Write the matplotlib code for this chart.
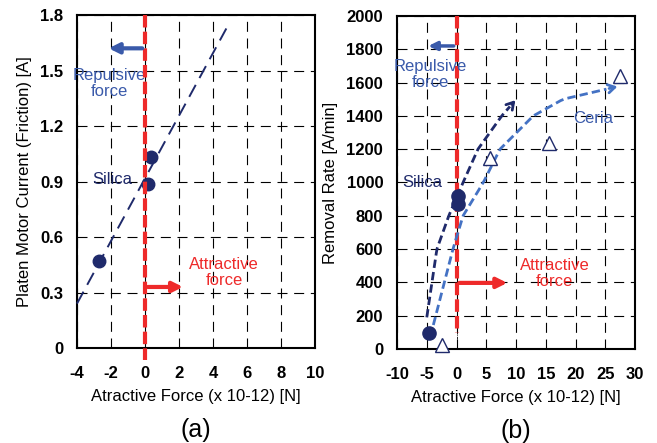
import matplotlib
matplotlib.use("Agg")
import matplotlib.pyplot as plt
import numpy as np

plt.rcParams['font.family'] = ['Liberation Sans', 'DejaVu Sans']
plt.rcParams['axes.unicode_minus'] = False

# ---- data (a) ----
a_force = [-2.7, 0.35, 0.2]
a_current = [0.47, 1.03, 0.885]
a_fit_x = [-4.0, 4.8]
a_fit_y = [0.24, 1.73]

# ---- data (b) ----
b_silica_force = [-4.6, 0.3, 0.3]
b_silica_rate = [95, 920, 870]
b_ceria_force = [-2.4, 5.7, 15.5, 27.4]
b_ceria_rate = [25, 1150, 1240, 1640]
b_silica_curve_x = [-5.0, -3.3, -1.3, 1.1, 3.6, 7.6, 10.2]
b_silica_curve_y = [190, 600, 800, 1000, 1200, 1400, 1507]
b_ceria_curve_x = [-3.9, -0.6, 1.1, 4.5, 7.3, 12.9, 17.9, 27.5]
b_ceria_curve_y = [144, 600, 800, 1000, 1200, 1400, 1500, 1580]

navy = '#1f2a6b'
blue = '#4472c4'
textblue = '#3a5aaa'
red = '#ee2a2a'

FS = 12

fig = plt.figure(figsize=(6.57, 4.43), dpi=100)
ax1 = fig.add_axes([0.1172, 0.2144, 0.3623, 0.7517])
ax2 = fig.add_axes([0.6043, 0.2122, 0.3623, 0.7517])

grid_ls = (0, (9, 6))

# ---------- panel (a) ----------
ax1.set_xlim(-4, 10)
ax1.set_ylim(0, 1.8)
ax1.set_xticks(np.arange(-4, 11, 2))
ax1.set_yticks([0, 0.3, 0.6, 0.9, 1.2, 1.5, 1.8])
ax1.set_yticklabels(['0', '0.3', '0.6', '0.9', '1.2', '1.5', '1.8'])
ax1.grid(True, color='black', linestyle=grid_ls, linewidth=0.8)
ax1.set_axisbelow(True)
ax1.plot(a_fit_x, a_fit_y, color=navy, linestyle=(0, (7, 4)), linewidth=1.4, clip_on=False, zorder=3)
ax1.plot(a_force, a_current, 'o', color=navy, markersize=9, zorder=4)
ax1.plot([0, 0], [1.8, -0.065], color=red, linestyle=(0, (3, 1)), linewidth=3, clip_on=False, zorder=5)
ax1.annotate('', xy=(-2.3, 1.62), xytext=(0, 1.62),
             arrowprops=dict(arrowstyle='-|>,head_length=0.6,head_width=0.3', color=textblue, lw=3), zorder=6)
ax1.annotate('', xy=(2.4, 0.33), xytext=(0, 0.33),
             arrowprops=dict(arrowstyle='-|>,head_length=0.6,head_width=0.3', color=red, lw=3), zorder=6)
ax1.text(-2.1, 1.43, 'Repulsive\nforce', color=textblue, fontsize=FS, ha='center', va='center', linespacing=1.1)
ax1.text(-1.95, 0.91, 'Silica', color=navy, fontsize=FS, ha='center', va='center')
ax1.text(4.65, 0.41, 'Attractive\nforce', color=red, fontsize=FS, ha='center', va='center', linespacing=1.1)
ax1.set_xlabel('Atractive Force (x 10-12) [N]', fontsize=FS, labelpad=6)
ax1.set_ylabel('Platen Motor Current (Friction) [A]', fontsize=FS, labelpad=6)
ax1.text(0.5, -0.246, '(a)', transform=ax1.transAxes, fontsize=18, ha='center', va='center')

# ---------- panel (b) ----------
ax2.set_xlim(-10, 30)
ax2.set_ylim(0, 2000)
ax2.set_xticks(np.arange(-10, 31, 5))
ax2.set_yticks(np.arange(0, 2001, 200))
ax2.grid(True, color='black', linestyle=grid_ls, linewidth=0.8)
ax2.set_axisbelow(True)
ax2.axvline(0, color='black', linestyle=(0, (3, 1, 1, 1)), linewidth=0.6, zorder=2)
ax2.plot([0, 0], [2000, 96], color=red, linestyle=(0, (3, 1)), linewidth=3, zorder=3)

def smooth(xs, ys, n=60):
    xs = np.asarray(xs, float); ys = np.asarray(ys, float)
    t = np.concatenate([[0], np.cumsum(np.hypot(np.diff(xs) / 40, np.diff(ys) / 2000))])
    tt = np.linspace(0, t[-1], n)
    return np.interp(tt, t, xs), np.interp(tt, t, ys)

sx, sy = smooth(b_silica_curve_x, b_silica_curve_y)
ax2.plot(sx[:-3], sy[:-3], color=navy, linestyle=(0, (3, 1.5)), linewidth=2, zorder=4)
ax2.annotate('', xy=(sx[-1], sy[-1]), xytext=(sx[-4], sy[-4]),
             arrowprops=dict(arrowstyle='->,head_length=0.5,head_width=0.3', color=navy, lw=2), zorder=4)
cx, cy = smooth(b_ceria_curve_x, b_ceria_curve_y)
ax2.plot(cx[:-3], cy[:-3], color=blue, linestyle=(0, (3, 1.5)), linewidth=2, zorder=4)
ax2.annotate('', xy=(cx[-1], cy[-1]), xytext=(cx[-4], cy[-4]),
             arrowprops=dict(arrowstyle='->,head_length=0.5,head_width=0.3', color=blue, lw=2), zorder=4)

ax2.plot(b_silica_force, b_silica_rate, 'o', color=navy, markersize=9.5, zorder=5)
ax2.plot(b_ceria_force, b_ceria_rate, '^', markerfacecolor='white', markeredgecolor=navy,
         markeredgewidth=1, markersize=10, zorder=5, clip_on=False)

ax2.annotate('', xy=(-5.2, 1820), xytext=(0, 1820),
             arrowprops=dict(arrowstyle='-|>,head_length=0.5,head_width=0.25', color=textblue, lw=2.5), zorder=6)
ax2.annotate('', xy=(9.0, 397), xytext=(0, 397),
             arrowprops=dict(arrowstyle='-|>,head_length=0.6,head_width=0.3', color=red, lw=3), zorder=6)
ax2.text(-4.4, 1650, 'Repulsive\nforce', color=textblue, fontsize=FS, ha='center', va='center', linespacing=1.1)
ax2.text(-5.8, 1000, 'Silica', color=navy, fontsize=FS, ha='center', va='center')
ax2.text(23, 1385, 'Ceria', color=textblue, fontsize=FS, ha='center', va='center')
ax2.text(16.5, 455, 'Attractive\nforce', color=red, fontsize=FS, ha='center', va='center', linespacing=1.1)
ax2.set_xlabel('Atractive Force (x 10-12) [N]', fontsize=FS, labelpad=6)
ax2.set_ylabel('Removal Rate [A/min]', fontsize=FS, labelpad=6)
ax2.text(0.5, -0.246, '(b)', transform=ax2.transAxes, fontsize=18, ha='center', va='center')

for ax in (ax1, ax2):
    ax.tick_params(axis='x', length=0, pad=13)
    ax.tick_params(axis='y', length=0, pad=10)
    for lab in ax.get_xticklabels() + ax.get_yticklabels():
        lab.set_fontsize(FS)
        lab.set_fontweight('bold')
    for s in ax.spines.values():
        s.set_linewidth(1.5)

fig.savefig('out.png', dpi=100)
